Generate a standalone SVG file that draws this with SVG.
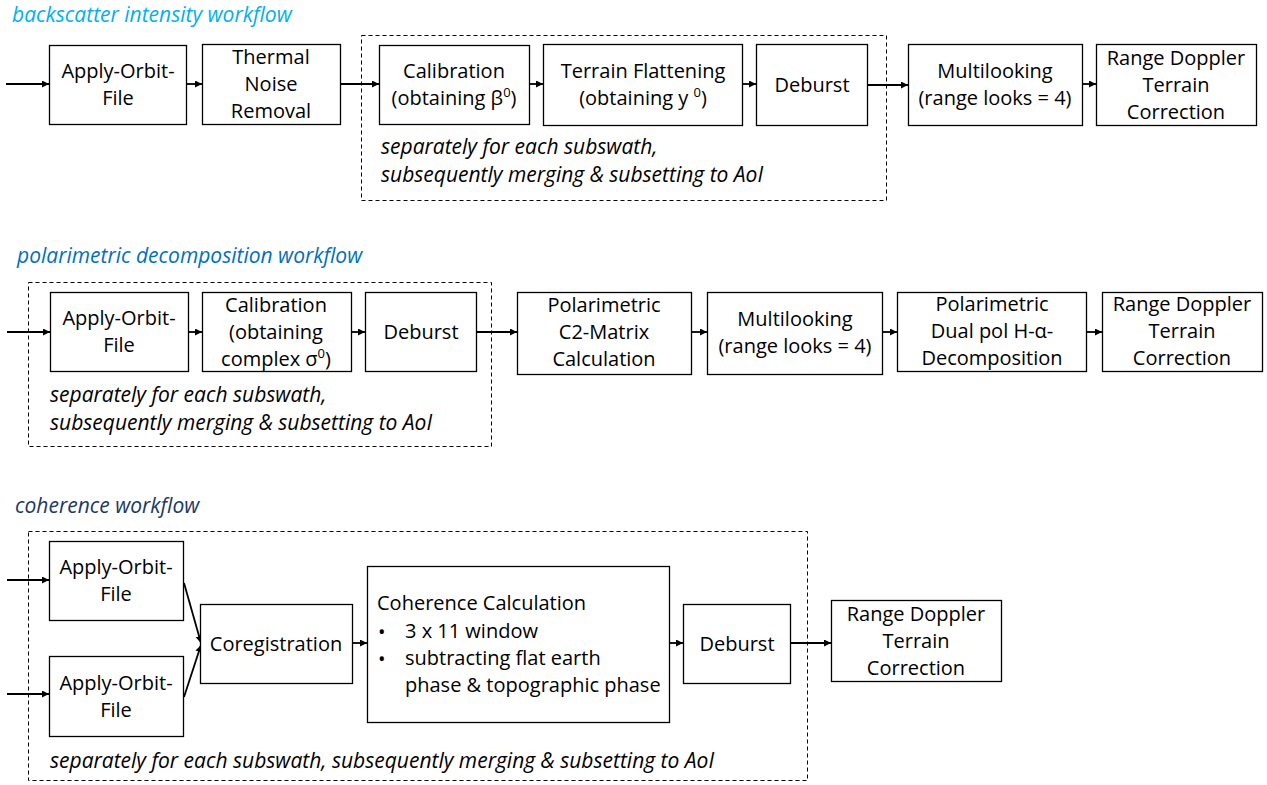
<svg xmlns="http://www.w3.org/2000/svg" width="1267" height="785" viewBox="0 0 1267 785">
<defs>
<marker id="ah" markerUnits="userSpaceOnUse" markerWidth="8" markerHeight="8" refX="7" refY="3.5" orient="auto">
<path d="M0,0 L7,3.5 L0,7 z" fill="#000"/>
</marker>
<style>
.box{fill:#fff;stroke:#000;stroke-width:1.3}
.dash{fill:none;stroke:#000;stroke-width:1;stroke-dasharray:4 3}
.t{font-family:"Open Sans","Noto Sans",sans-serif;font-size:20px;fill:#000;text-anchor:middle}
.tl{font-family:"Open Sans","Noto Sans",sans-serif;font-size:20px;fill:#000}
.it{font-family:"Open Sans","Noto Sans",sans-serif;font-size:21px;font-style:italic;fill:#000}
.ttl{font-family:"Open Sans","Noto Sans",sans-serif;font-size:21px;font-style:italic}
.sup{font-size:13px}
.c{fill:none;stroke:#000;stroke-width:1.8;marker-end:url(#ah)}
</style>
</defs>
<rect width="1267" height="785" fill="#fff"/>

<!-- titles -->
<text class="ttl" x="12" y="22" fill="#00B0F0">backscatter intensity workflow</text>
<text class="ttl" x="17" y="263" fill="#0070C0">polarimetric decomposition workflow</text>
<text class="ttl" x="15" y="513" fill="#203864">coherence workflow</text>

<!-- group frames -->
<g id="frame1">
<rect class="dash" x="361.5" y="35.5" width="525" height="165"/>
<text class="it" x="381" y="154">separately for each subswath,</text>
<text class="it" x="381" y="182">subsequently merging &amp; subsetting to AoI</text>
</g>
<g id="frame2">
<rect class="dash" x="28.5" y="282.5" width="463" height="164"/>
<text class="it" x="50" y="402">separately for each subswath,</text>
<text class="it" x="50" y="430">subsequently merging &amp; subsetting to AoI</text>
</g>
<g id="frame3">
<rect class="dash" x="28.5" y="531.5" width="779" height="249"/>
<text class="it" x="50" y="768">separately for each subswath, subsequently merging &amp; subsetting to AoI</text>
</g>

<!-- connectors -->
<g id="connectors">
<line class="c" x1="6" y1="84" x2="49" y2="84"/>
<line class="c" x1="186" y1="84" x2="202" y2="84"/>
<line class="c" x1="340" y1="84" x2="379" y2="84"/>
<line class="c" x1="529" y1="84" x2="543" y2="84"/>
<line class="c" x1="742" y1="84" x2="756" y2="84"/>
<line class="c" x1="867" y1="85" x2="908" y2="85"/>
<line class="c" x1="1082" y1="84" x2="1096" y2="84"/>

<line class="c" x1="7" y1="332" x2="50" y2="332"/>
<line class="c" x1="188" y1="332" x2="202" y2="332"/>
<line class="c" x1="351" y1="332" x2="365" y2="332"/>
<line class="c" x1="476" y1="332" x2="517" y2="332"/>
<line class="c" x1="691" y1="332" x2="707" y2="332"/>
<line class="c" x1="882" y1="332" x2="897" y2="332"/>
<line class="c" x1="1086" y1="332" x2="1102" y2="332"/>

<line class="c" x1="7" y1="580" x2="49" y2="580"/>
<line class="c" x1="7" y1="694" x2="49" y2="694"/>
<line class="c" x1="184" y1="583" x2="201" y2="643"/>
<line class="c" x1="184" y1="697" x2="201" y2="645"/>
<line class="c" x1="352" y1="643" x2="367" y2="643"/>
<line class="c" x1="669" y1="643" x2="683" y2="643"/>
<line class="c" x1="790" y1="643" x2="831" y2="643"/>
</g>

<!-- row 1 -->
<g id="b1-orbit"><rect class="box" x="49.5" y="45.5" width="137" height="79"/>
<text class="t" x="118" y="78">Apply-Orbit-</text><text class="t" x="118" y="105">File</text></g>
<g id="b1-thermal"><rect class="box" x="202.5" y="44.5" width="138" height="80"/>
<text class="t" x="271" y="64">Thermal</text><text class="t" x="271" y="91">Noise</text><text class="t" x="271" y="118">Removal</text></g>
<g id="b1-calib"><rect class="box" x="379.5" y="45.5" width="150" height="79"/>
<text class="t" x="454" y="78">Calibration</text><text class="t" x="454" y="105">(obtaining β<tspan class="sup" dy="-8">0</tspan><tspan dy="8">)</tspan></text></g>
<g id="b1-terrain"><rect class="box" x="543.5" y="44.5" width="199" height="81"/>
<text class="t" x="643" y="78">Terrain Flattening</text><text class="t" x="643" y="105">(obtaining y <tspan class="sup" dy="-8">0</tspan><tspan dy="8">)</tspan></text></g>
<g id="b1-deburst"><rect class="box" x="756.5" y="44.5" width="111" height="81"/>
<text class="t" x="812" y="92">Deburst</text></g>
<g id="b1-multi"><rect class="box" x="908.5" y="44.5" width="174" height="81"/>
<text class="t" x="995" y="78">Multilooking</text><text class="t" x="995" y="105">(range looks = 4)</text></g>
<g id="b1-rdtc"><rect class="box" x="1096.5" y="44.5" width="160" height="81"/>
<text class="t" x="1176" y="65">Range Doppler</text><text class="t" x="1176" y="92">Terrain</text><text class="t" x="1176" y="119">Correction</text></g>

<!-- row 2 -->
<g id="b2-orbit"><rect class="box" x="50.5" y="292.5" width="138" height="79"/>
<text class="t" x="119" y="325">Apply-Orbit-</text><text class="t" x="119" y="352">File</text></g>
<g id="b2-calib"><rect class="box" x="202.5" y="292.5" width="149" height="79"/>
<text class="t" x="276" y="312">Calibration</text><text class="t" x="276" y="339">(obtaining</text><text class="t" x="276" y="366">complex σ<tspan class="sup" dy="-8">0</tspan><tspan dy="8">)</tspan></text></g>
<g id="b2-deburst"><rect class="box" x="365.5" y="292.5" width="111" height="79"/>
<text class="t" x="421" y="339">Deburst</text></g>
<g id="b2-c2"><rect class="box" x="517.5" y="292.5" width="174" height="82"/>
<text class="t" x="604" y="312">Polarimetric</text><text class="t" x="604" y="339">C2-Matrix</text><text class="t" x="604" y="366">Calculation</text></g>
<g id="b2-multi"><rect class="box" x="707.5" y="292.5" width="175" height="82"/>
<text class="t" x="795" y="326">Multilooking</text><text class="t" x="795" y="353">(range looks = 4)</text></g>
<g id="b2-halpha"><rect class="box" x="897.5" y="292.5" width="189" height="79"/>
<text class="t" x="992" y="311">Polarimetric</text><text class="t" x="992" y="338">Dual pol H-α-</text><text class="t" x="992" y="365">Decomposition</text></g>
<g id="b2-rdtc"><rect class="box" x="1102.5" y="292.5" width="160" height="79"/>
<text class="t" x="1182" y="311">Range Doppler</text><text class="t" x="1182" y="338">Terrain</text><text class="t" x="1182" y="365">Correction</text></g>

<!-- row 3 -->
<g id="b3-orbit1"><rect class="box" x="49.5" y="541.5" width="134" height="79"/>
<text class="t" x="116" y="574">Apply-Orbit-</text><text class="t" x="116" y="601">File</text></g>
<g id="b3-orbit2"><rect class="box" x="49.5" y="656.5" width="134" height="80"/>
<text class="t" x="116" y="690">Apply-Orbit-</text><text class="t" x="116" y="717">File</text></g>
<g id="b3-coreg"><rect class="box" x="200.5" y="604.5" width="152" height="79"/>
<text class="t" x="276" y="651">Coregistration</text></g>
<g id="b3-coh"><rect class="box" x="367.5" y="566.5" width="302" height="156"/>
<text class="tl" x="377" y="610">Coherence Calculation</text>
<text class="tl" x="378" y="639" font-size="24">•</text><text class="tl" x="405" y="638">3 x 11 window</text>
<text class="tl" x="378" y="666" font-size="24">•</text><text class="tl" x="405" y="665">subtracting flat earth</text>
<text class="tl" x="405" y="692">phase &amp; topographic phase</text></g>
<g id="b3-deburst"><rect class="box" x="683.5" y="604.5" width="107" height="79"/>
<text class="t" x="737" y="651">Deburst</text></g>
<g id="b3-rdtc"><rect class="box" x="831.5" y="600.5" width="170" height="81"/>
<text class="t" x="916" y="621">Range Doppler</text><text class="t" x="916" y="648">Terrain</text><text class="t" x="916" y="675">Correction</text></g>
</svg>
